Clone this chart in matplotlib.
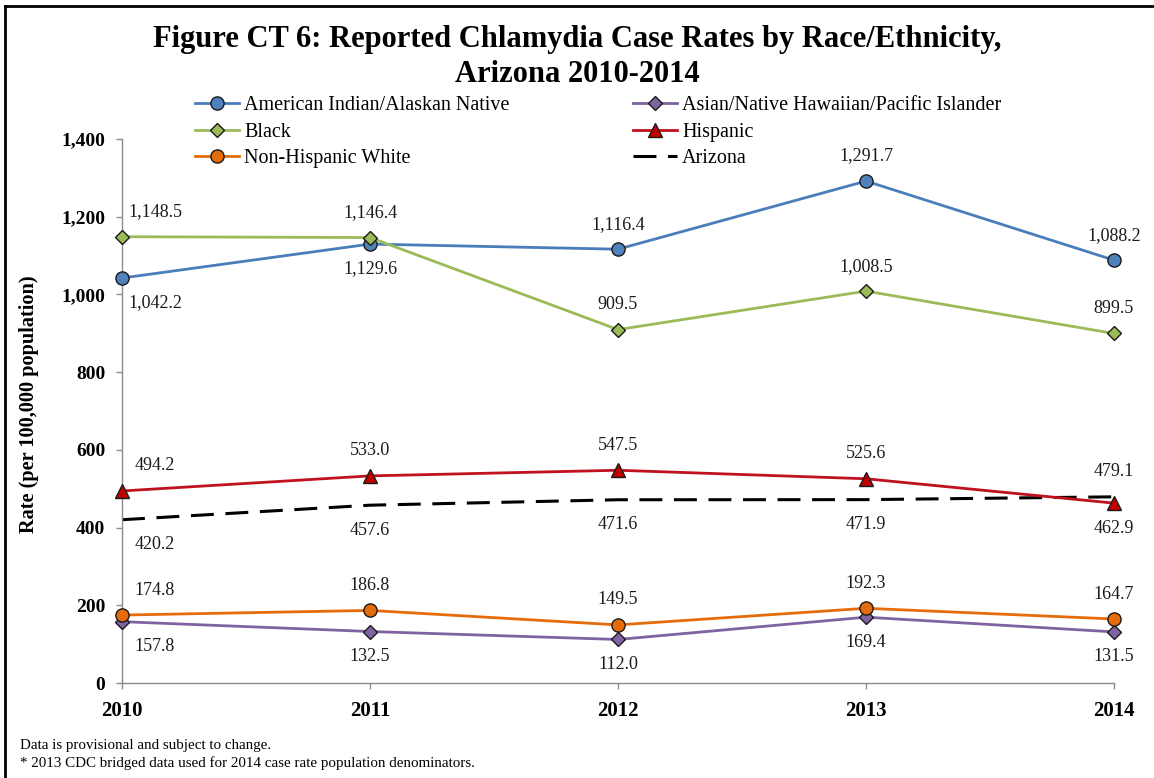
import matplotlib
matplotlib.use("Agg")
import matplotlib.pyplot as plt
from matplotlib.lines import Line2D
from matplotlib.ticker import FuncFormatter

# Reported chlamydia case rates per 100,000 population
years = [2010, 2011, 2012, 2013, 2014]
ai_an = [1042.2, 1129.6, 1116.4, 1291.7, 1088.2]
asian_nhpi = [157.8, 132.5, 112.0, 169.4, 131.5]
black = [1148.5, 1146.4, 909.5, 1008.5, 899.5]
hispanic = [494.2, 533.0, 547.5, 525.6, 462.9]
nh_white = [174.8, 186.8, 149.5, 192.3, 164.7]
arizona = [420.2, 457.6, 471.6, 471.9, 479.1]

labels = ["American Indian/Alaskan Native", "Asian/Native Hawaiian/Pacific Islander",
          "Black", "Hispanic", "Non-Hispanic White", "Arizona"]
y_ticks = [0, 200, 400, 600, 800, 1000, 1200, 1400]

# label placement per series: +1 above the point, -1 below
above = {
    "ai": [-1, -1, 1, 1, 1],
    "asian": [-1, -1, -1, -1, -1],
    "black": [1, 1, 1, 1, 1],
    "hisp": [1, 1, 1, 1, -1],
    "nhw": [1, 1, 1, 1, 1],
    "az": [-1, -1, -1, -1, 1],
}

serif = ["Liberation Serif", "DejaVu Serif"]
plt.rcParams["font.family"] = serif

W, H = 1154, 778
fig = plt.figure(figsize=(W / 100, H / 100), dpi=100)
ax = fig.add_axes([122 / W, 1 - 683 / H, (1114 - 122) / W, (683 - 139) / H])

styles = [
    ("ai", ai_an, "#4A7EBB", "#4F81BD", "o", 9.5),
    ("asian", asian_nhpi, "#7F63A1", "#8064A2", "D", 7.0),
    ("black", black, "#9BBB59", "#9BBB59", "D", 7.0),
    ("hisp", hispanic, "#C0111F", "#C00000", "^", 9.5),
    ("nhw", nh_white, "#E46C0A", "#E46C0A", "o", 9.5),
]

handles = {}
for (key, vals, lc, mc, mk, ms), lab in zip(styles, labels):
    ln, = ax.plot(years, vals, color=lc, lw=2.0, marker=mk, ms=ms,
                  markerfacecolor=mc, markeredgecolor="#1a1a1a", markeredgewidth=1.0,
                  clip_on=False, zorder=3, label=lab)
    handles[key] = ln

az_line, = ax.plot(years, arizona, color="black", lw=2.2, dashes=(7.5, 3.8),
                   clip_on=False, zorder=2, label=labels[5])
handles["az"] = az_line

series = {"ai": ai_an, "asian": asian_nhpi, "black": black,
          "hisp": hispanic, "nhw": nh_white, "az": arizona}
for key, vals in series.items():
    for i, (x, v) in enumerate(zip(years, vals)):
        dx = 33 if i == 0 else 0
        dy = 25 * above[key][i]
        ax.annotate(f"{v:,.1f}", xy=(x, v), xytext=(dx * 0.72, dy * 0.72),
                    textcoords="offset points", ha="center", va="center",
                    fontsize=13, color="#1a1a1a", zorder=4)

ax.set_xlim(2010, 2014)
ax.set_ylim(0, 1400)
ax.set_xticks(years)
ax.set_yticks(y_ticks)
ax.yaxis.set_major_formatter(FuncFormatter(lambda v, p: f"{int(v):,}"))

for side in ("top", "right"):
    ax.spines[side].set_visible(False)
for side in ("left", "bottom"):
    ax.spines[side].set_color("#8C8C8C")
    ax.spines[side].set_linewidth(1.0)

ax.tick_params(axis="y", direction="out", length=4, width=1, color="#8C8C8C",
               pad=8, labelsize=14)
ax.tick_params(axis="x", direction="out", length=4, width=1, color="#8C8C8C",
               pad=9, labelsize=15)
for t in ax.get_xticklabels() + ax.get_yticklabels():
    t.set_fontweight("bold")

fig.text(29 / W, 1 - 404 / H, "Rate (per 100,000 population)", rotation=90,
         ha="center", va="center", fontsize=14.6, fontweight="bold")

fig.text(0.5, 1 - 40 / H, "Figure CT 6: Reported Chlamydia Case Rates by Race/Ethnicity,",
         ha="center", va="center", fontsize=22, fontweight="bold")
fig.text(0.5, 1 - 75 / H, "Arizona 2010-2014",
         ha="center", va="center", fontsize=22, fontweight="bold")

order = ["ai", "black", "nhw", "asian", "hisp", "az"]
leg = fig.legend([handles[k] for k in order], [handles[k].get_label() for k in order],
                 ncol=2, loc="upper left", bbox_to_anchor=(195 / W, 1 - 96 / H),
                 frameon=False, fontsize=14.5, handlelength=2.2, handletextpad=0.25,
                 columnspacing=6.1, labelspacing=0.37, borderpad=0, borderaxespad=0)

fig.text(20 / W, 1 - 745 / H, "Data is provisional and subject to change.",
         ha="left", va="center", fontsize=10.8)
fig.text(20 / W, 1 - 763 / H, "* 2013 CDC bridged data used for 2014 case rate population denominators.",
         ha="left", va="center", fontsize=10.8)

# frame lines along the top and left edges
fig.add_artist(Line2D([5 / W, 1], [1 - 6 / H, 1 - 6 / H], color="black", lw=2.0,
                      transform=fig.transFigure))
fig.add_artist(Line2D([5 / W, 5 / W], [0, 1 - 6 / H], color="black", lw=2.0,
                      transform=fig.transFigure))

fig.savefig("out.png", dpi=100)
